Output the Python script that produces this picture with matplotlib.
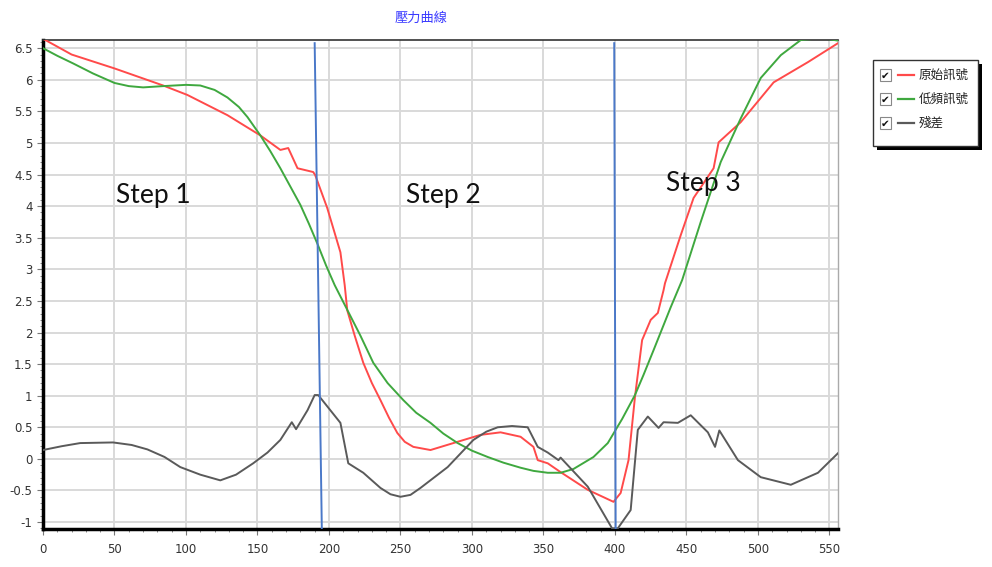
import matplotlib
matplotlib.use('Agg')
import matplotlib.pyplot as plt
from matplotlib.ticker import MultipleLocator
from matplotlib.patches import Rectangle

plt.rcParams['font.family'] = ['DejaVu Sans', 'Noto Sans CJK TC']

# 原始訊號 (raw)
raw_x = [0, 20, 50, 84, 101, 129, 152, 166, 171.5, 178, 189, 190.4, 198.8, 208, 211,
         212.8, 218, 224, 230, 236, 242, 247.8, 253, 259, 271, 287, 306, 320, 334, 343, 346, 353, 362,
         381, 399, 404, 409.5, 414, 419, 425, 430, 434, 435, 446, 455, 469, 472.5,
         488, 511, 535, 556]
raw_y = [6.65, 6.40, 6.18, 5.91, 5.76, 5.44, 5.12, 4.89, 4.92, 4.60, 4.54, 4.49, 3.97, 3.27, 2.75,
         2.35, 1.95, 1.52, 1.20, 0.93, 0.65, 0.41, 0.27, 0.19, 0.14, 0.25, 0.38, 0.42, 0.35, 0.19, -0.02, -0.07, -0.21,
         -0.49, -0.68, -0.54, -0.02, 0.98, 1.88, 2.20, 2.31, 2.67, 2.78, 3.54, 4.13, 4.60, 5.01,
         5.33, 5.96, 6.28, 6.58]

# 低頻訊號 (low-pass)
low_x = [0, 10, 21, 35, 50, 60, 70, 84, 100, 110, 120, 129, 137, 143, 152, 159, 166, 173, 180,
         186, 192, 198, 204, 213, 222, 231, 241, 252, 261, 271, 280, 290, 300, 311, 322, 334,
         343, 353, 362, 371, 385, 395, 405, 414, 420, 427, 439, 447, 460, 474, 488, 502,
         516, 530, 545, 556]
low_y = [6.50, 6.38, 6.26, 6.10, 5.95, 5.90, 5.88, 5.90, 5.92, 5.91, 5.84, 5.72, 5.57, 5.41, 5.12, 4.87, 4.60, 4.31, 4.02,
         3.72, 3.40, 3.06, 2.75, 2.35, 1.95, 1.52, 1.20, 0.93, 0.73, 0.57, 0.40, 0.25, 0.13, 0.03, -0.06, -0.14,
         -0.19, -0.22, -0.22, -0.16, 0.03, 0.25, 0.63, 1.01, 1.33, 1.72, 2.40, 2.83, 3.75, 4.70, 5.39, 6.03,
         6.39, 6.63, 6.66, 6.62]

# 殘差 (residual)
res_x = [0, 13, 26, 49, 62, 73, 85, 96, 110, 124, 135, 147, 157, 166, 174, 177, 185, 190, 192.5,
         208, 213.5, 224, 236, 243, 250, 257, 264, 283, 301, 310, 318, 328, 339, 346, 353, 360.5,
         362, 381, 398, 402, 411, 416, 423, 430.5, 434, 444, 453, 465, 470, 473, 486, 502, 523, 542, 556]
res_y = [0.14, 0.20, 0.25, 0.26, 0.22, 0.15, 0.03, -0.13, -0.25, -0.34, -0.25, -0.07, 0.10, 0.30, 0.58, 0.47, 0.77, 1.01, 1.01,
         0.57, -0.07, -0.22, -0.46, -0.56, -0.60, -0.57, -0.46, -0.13, 0.30, 0.43, 0.50, 0.52, 0.50, 0.19, 0.10, -0.02,
         0.02, -0.44, -1.10, -1.10, -0.81, 0.46, 0.67, 0.49, 0.58, 0.57, 0.69, 0.42, 0.19, 0.45, -0.02, -0.29, -0.41, -0.22, 0.09]

# 分段線 (step boundaries): x at top, x at bottom
split_top = [190, 399.5]
split_bot = [195, 400.5]
step_labels = ['Step 1', 'Step 2', 'Step 3']
step_x = [77, 280, 462]
step_y = [4.17, 4.17, 4.36]

names = ['原始訊號', '低頻訊號', '殘差']
colors = ['#ff4a4a', '#3fa83f', '#5a5a5a']
series = [(raw_x, raw_y), (low_x, low_y), (res_x, res_y)]

fig = plt.figure(figsize=(9.92, 5.67), dpi=100)
ax = fig.add_axes([43/992, 38/567, 795/992, 489/567])

for (xs, ys), c in zip(series, colors):
    ax.plot(xs, ys, color=c, lw=1.4, zorder=3)

for t, b in zip(split_top, split_bot):
    ax.plot([t, b], [6.58, -1.11], color='#4a78c8', lw=1.4, zorder=4)

for s, x, y in zip(step_labels, step_x, step_y):
    ax.text(x, y, s, fontsize=19, family=['Lato', 'DejaVu Sans'], ha='center', va='center', color='#111111')

ax.set_xlim(0, 556)
ax.set_ylim(-1.11, 6.63)
ax.xaxis.set_major_locator(MultipleLocator(50))
ax.xaxis.set_minor_locator(MultipleLocator(10))
ax.yaxis.set_major_locator(MultipleLocator(0.5))
ax.yaxis.set_minor_locator(MultipleLocator(0.1))
ax.yaxis.set_major_formatter(plt.FuncFormatter(lambda v, p: ('%g' % v)))
ax.grid(True, which='major', color='#d9d9d9', lw=1.4, zorder=0)
ax.set_axisbelow(True)
ax.tick_params(which='both', direction='out', colors='#777777', labelcolor='#333333', labelsize=8.5)
ax.tick_params(which='major', length=4)
ax.tick_params(which='minor', length=2.5)
ax.tick_params(axis='x', pad=6)

for side in ['left', 'bottom']:
    ax.spines[side].set_linewidth(2.5)
    ax.spines[side].set_color('black')
ax.spines['top'].set_linewidth(1.2)
ax.spines['top'].set_color('#333333')
ax.spines['right'].set_linewidth(1.0)
ax.spines['right'].set_color('#aaaaaa')

fig.text(421/992, 1 - 18/567, '壓力曲線', ha='center', va='center', color='#3a3aff',
         fontsize=9.5, family=['Noto Sans CJK TC', 'DejaVu Sans'])

# 勾選式圖例, drawn on a pixel-space overlay
lg = fig.add_axes([0, 0, 1, 1], zorder=10)
lg.set_xlim(0, 992)
lg.set_ylim(567, 0)
lg.axis('off')
lg.add_patch(Rectangle((877, 64), 105, 86, facecolor='black', edgecolor='none'))
lg.add_patch(Rectangle((873, 60), 105, 86, facecolor='white', edgecolor='#333333', lw=1.0))
row_y = [75, 99, 123]
for name, c, ry in zip(names, colors, row_y):
    lg.add_patch(Rectangle((880, ry - 6), 11, 12, facecolor='white', edgecolor='#888888', lw=0.8))
    lg.text(885.5, ry + 0.5, '✔', ha='center', va='center', fontsize=7.5, color='#111111',
            family='DejaVu Sans')
    lg.plot([898, 914], [ry, ry], color=c, lw=1.6)
    lg.text(919, ry, name, ha='left', va='center', fontsize=9, color='#222222',
            family=['Noto Sans CJK TC', 'DejaVu Sans'])

fig.savefig('out.png', dpi=100)
